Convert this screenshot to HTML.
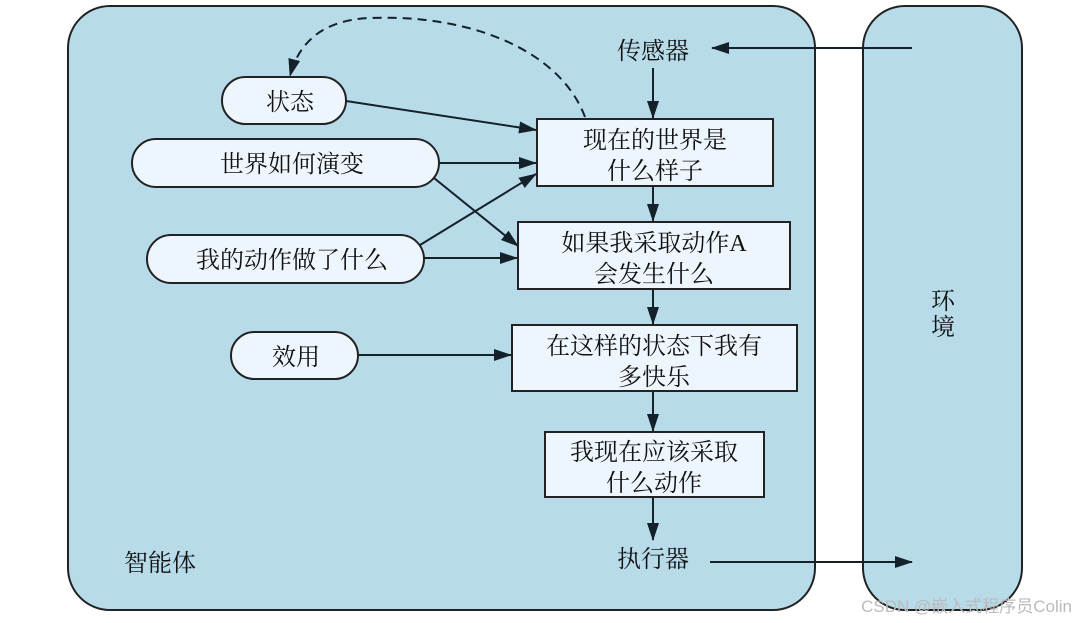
<!DOCTYPE html>
<html><head><meta charset="utf-8"><style>
html,body{margin:0;padding:0;background:#fff;}
svg{display:block;}
text{font-family:"Liberation Serif","Noto Serif CJK SC",serif;fill:#111;}
</style></head><body>
<svg width="1077" height="623" viewBox="0 0 1077 623" xmlns="http://www.w3.org/2000/svg">
<defs>
<marker id="a" markerWidth="18" markerHeight="12" refX="17" refY="6" orient="auto" markerUnits="userSpaceOnUse">
<path d="M0,0 L18,6 L0,12 Z" fill="#14202a"/></marker>
</defs>
<rect x="68" y="6" width="747" height="604" rx="42" fill="#b8dbea" stroke="#222" stroke-width="2"/>
<rect x="863" y="6" width="159" height="604" rx="42" fill="#b8dbea" stroke="#222" stroke-width="2"/>
<g stroke="#14202a" stroke-width="2" fill="none">
<path d="M585,117 C560,50 470,14 370,18 C320,20 298,45 290,76" stroke-dasharray="9,6" marker-end="url(#a)"/>
<line x1="912" y1="48" x2="712" y2="48" marker-end="url(#a)"/>
<line x1="710" y1="562" x2="912" y2="562" marker-end="url(#a)"/>
<line x1="653" y1="68" x2="653" y2="118" marker-end="url(#a)"/>
<line x1="653" y1="187" x2="653" y2="221" marker-end="url(#a)"/>
<line x1="653" y1="290" x2="653" y2="324" marker-end="url(#a)"/>
<line x1="653" y1="392" x2="653" y2="431" marker-end="url(#a)"/>
<line x1="653" y1="498" x2="653" y2="540" marker-end="url(#a)"/>
<line x1="346" y1="101" x2="536" y2="130" marker-end="url(#a)"/>
<line x1="439" y1="163" x2="536" y2="163" marker-end="url(#a)"/>
<line x1="434" y1="178" x2="518" y2="246" marker-end="url(#a)"/>
<line x1="420" y1="245" x2="536" y2="174" marker-end="url(#a)"/>
<line x1="424" y1="258" x2="517" y2="258" marker-end="url(#a)"/>
<line x1="358" y1="355" x2="511" y2="355" marker-end="url(#a)"/>
</g>
<g fill="#eef6fd" stroke="#222" stroke-width="2">
<rect x="537" y="119" width="236" height="67"/>
<rect x="518" y="222" width="272" height="67"/>
<rect x="512" y="325" width="285" height="66"/>
<rect x="545" y="432" width="219" height="65"/>
<rect x="222" y="77" width="124" height="47" rx="23.5"/>
<rect x="132" y="139" width="307" height="48" rx="24"/>
<rect x="147" y="235" width="277" height="48" rx="24"/>
<rect x="231" y="332" width="127" height="47" rx="23.5"/>
</g>
<g font-size="24" text-anchor="middle">
<text x="653" y="59">传感器</text>
<text x="653" y="567">执行器</text>
<text x="160" y="571">智能体</text>
<text x="943" y="309">环</text>
<text x="943" y="335">境</text>
<text x="655" y="148">现在的世界是</text>
<text x="655" y="179">什么样子</text>
<text x="654" y="251">如果我采取动作A</text>
<text x="654" y="282">会发生什么</text>
<text x="654" y="354">在这样的状态下我有</text>
<text x="654" y="385">多快乐</text>
<text x="654" y="460">我现在应该采取</text>
<text x="654" y="491">什么动作</text>
<text x="290" y="110">状态</text>
<text x="292" y="172">世界如何演变</text>
<text x="292" y="268">我的动作做了什么</text>
<text x="296" y="365">效用</text>
</g>
<text x="1072" y="612" font-size="17" text-anchor="end" style="fill:#bbb;font-family:'Liberation Sans','Noto Sans CJK SC',sans-serif">CSDN @嵌入式程序员Colin</text>
</svg>
</body></html>
